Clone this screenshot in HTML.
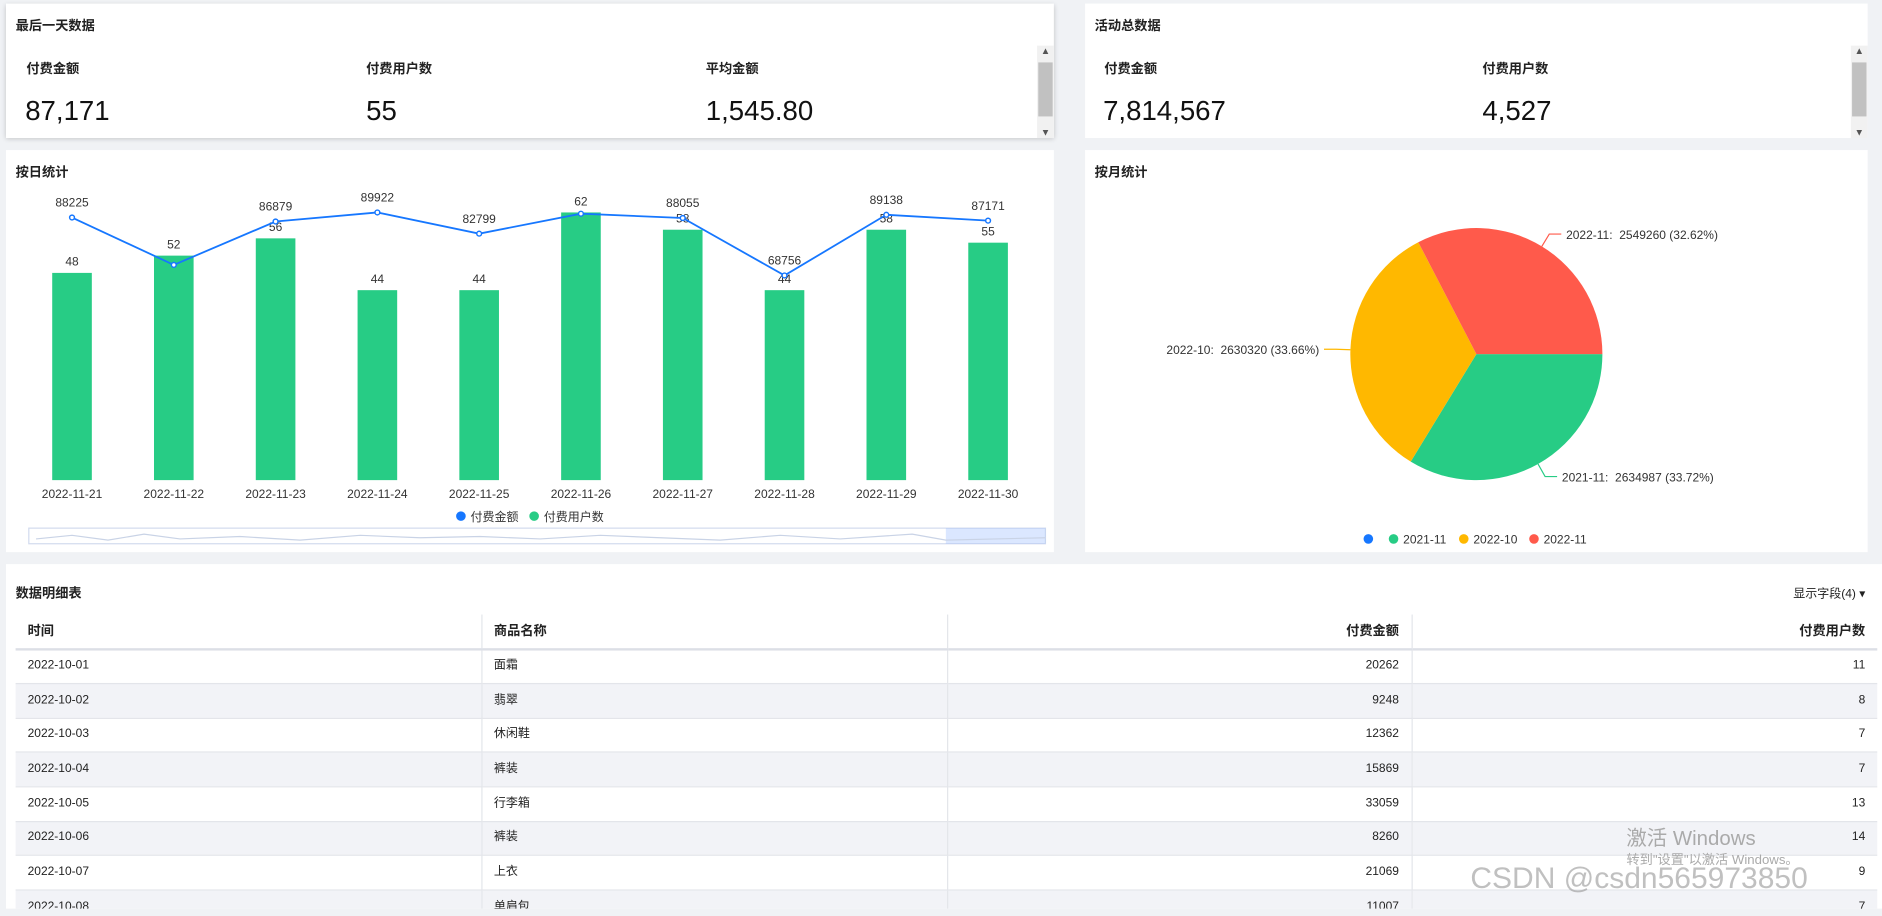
<!DOCTYPE html>
<html><head><meta charset="utf-8">
<style>
html,body{margin:0;padding:0;background:#f0f2f5;overflow:hidden;width:1882px;height:916px}
#wrap{position:absolute;left:0;top:0;width:1568px;height:763px;transform:scale(1.2003);transform-origin:0 0;font-family:"Liberation Sans","Noto Sans CJK SC",sans-serif;color:#222}
.card{position:absolute;background:#fff}
.title{position:absolute;left:8px;top:10px;font-size:11px;font-weight:bold;color:#222}
.lbl{position:absolute;font-size:11px;font-weight:bold}
.val{position:absolute;font-size:23px;color:#111}
.sb{position:absolute;width:14px;background:#f1f1f1}
.sb .th{position:absolute;left:1px;right:1px;background:#c1c1c1}
.sb .a{position:absolute;left:0;width:14px;text-align:center;font-size:8px;color:#555}
table{border-collapse:collapse;position:absolute;left:8px;top:42px;width:1551px;font-size:10px;table-layout:fixed}
td,th{height:28.7px;box-sizing:border-box;padding:0 10px;line-height:12px;vertical-align:middle;border-bottom:1px solid #e3e5ea;border-right:1px solid #e3e5ea;white-space:nowrap;overflow:hidden}
th{font-weight:bold;font-size:11px;text-align:left;border-bottom:2px solid #dcdfe6}
td:last-child,th:last-child{border-right:none}
.r{text-align:right}
tr.g td{background:#f2f3f7}
text{white-space:pre}
</style></head><body>
<div id="wrap">
<div class="card" style="left:5px;top:3px;width:873px;height:112px;box-shadow:0 1px 4px rgba(0,0,0,.2)">
 <div class="title">最后一天数据</div>
 <div class="lbl" style="left:17px;top:46px">付费金额</div>
 <div class="val" style="left:16px;top:76px">87,171</div>
 <div class="lbl" style="left:300px;top:46px">付费用户数</div>
 <div class="val" style="left:300px;top:76px">55</div>
 <div class="lbl" style="left:583px;top:46px">平均金额</div>
 <div class="val" style="left:583px;top:76px">1,545.80</div>
 <div class="sb" style="left:859px;top:35px;height:77px"><div class="a" style="top:0">▲</div><div class="th" style="top:14px;height:45px"></div><div class="a" style="bottom:0">▼</div></div>
</div>
<div class="card" style="left:904px;top:3px;width:652px;height:112px">
 <div class="title">活动总数据</div>
 <div class="lbl" style="left:16px;top:46px">付费金额</div>
 <div class="val" style="left:15px;top:76px">7,814,567</div>
 <div class="lbl" style="left:331px;top:46px">付费用户数</div>
 <div class="val" style="left:331px;top:76px">4,527</div>
 <div class="sb" style="left:638px;top:35px;height:77px"><div class="a" style="top:0">▲</div><div class="th" style="top:14px;height:45px"></div><div class="a" style="bottom:0">▼</div></div>
</div>
<div class="card" style="left:5px;top:125px;width:873px;height:335px">
 <div class="title">按日统计</div>
</div>
<div class="card" style="left:904px;top:125px;width:652px;height:335px">
 <div class="title">按月统计</div>
</div>
<svg id="chart" width="1568" height="763" style="position:absolute;left:0;top:0" font-family="Liberation Sans, Noto Sans CJK SC, sans-serif"></svg>
<div class="card" style="left:5px;top:470px;width:1563px;height:287px;overflow:hidden">
 <div class="title" style="top:16px">数据明细表</div>
 <div style="position:absolute;left:1489px;top:16px;font-size:10px">显示字段(4) ▾</div>
 <table>
 <colgroup><col style="width:388px"><col style="width:388px"><col style="width:387px"><col style="width:388px"></colgroup>
 <tr><th>时间</th><th>商品名称</th><th class="r">付费金额</th><th class="r">付费用户数</th></tr>
 <tr><td>2022-10-01</td><td>面霜</td><td class="r">20262</td><td class="r">11</td></tr>
 <tr class="g"><td>2022-10-02</td><td>翡翠</td><td class="r">9248</td><td class="r">8</td></tr>
 <tr><td>2022-10-03</td><td>休闲鞋</td><td class="r">12362</td><td class="r">7</td></tr>
 <tr class="g"><td>2022-10-04</td><td>裤装</td><td class="r">15869</td><td class="r">7</td></tr>
 <tr><td>2022-10-05</td><td>行李箱</td><td class="r">33059</td><td class="r">13</td></tr>
 <tr class="g"><td>2022-10-06</td><td>裤装</td><td class="r">8260</td><td class="r">14</td></tr>
 <tr><td>2022-10-07</td><td>上衣</td><td class="r">21069</td><td class="r">9</td></tr>
 <tr class="g"><td>2022-10-08</td><td>单肩包</td><td class="r">11007</td><td class="r">7</td></tr>
 </table>
 <div style="position:absolute;left:1350px;top:214px;font-size:17px;color:#aaa">激活 Windows</div>
 <div style="position:absolute;left:1350px;top:238px;font-size:11px;color:#aaa">转到"设置"以激活 Windows。</div>
 <div style="position:absolute;left:1220px;top:248px;font-size:25px;color:rgba(150,150,150,.6)">CSDN @csdn565973850</div>
</div>
</div>
<script>
const dates=['2022-11-21','2022-11-22','2022-11-23','2022-11-24','2022-11-25','2022-11-26','2022-11-27','2022-11-28','2022-11-29','2022-11-30'];
const amounts=[88225,72300,86879,89922,82799,89500,88055,68756,89138,87171];
const amountLabels=[88225,null,86879,89922,82799,null,88055,68756,89138,87171];
const users=[48,52,56,44,44,62,58,44,58,55];
const pieNames=['2021-11','2022-10','2022-11'];
const pieValues=[2634987,2630320,2549260];
const pieColors=['#27cc85','#ffb800','#ff5a4b'];
const NS='http://www.w3.org/2000/svg',svg=document.getElementById('chart');
function mk(t,a,txt){const e=document.createElementNS(NS,t);for(const k in a)e.setAttribute(k,a[k]);if(txt!=null)e.textContent=txt;svg.appendChild(e);return e;}
const x0=60,step=84.8,base=400,plotH=223;
const xs=i=>x0+i*step, yU=v=>base-v*plotH/62, yA=v=>base-v*plotH/89922;
users.forEach((v,i)=>{
 const b=mk('rect',{x:xs(i)-16.5,y:yU(v),width:33,height:base-yU(v),fill:'#27cc85'});
 
 
 const t=mk('text',{x:xs(i),y:yU(v)-6,'font-size':10,'text-anchor':'middle',fill:'#333'},v);
 
 
 const d=mk('text',{x:xs(i),y:415,'font-size':10,'text-anchor':'middle',fill:'#333'},dates[i]);
 
 
});
const ln=mk('polyline',{points:amounts.map((v,i)=>xs(i)+','+yA(v)).join(' '),fill:'none',stroke:'#1677ff','stroke-width':1.5});


amounts.forEach((v,i)=>{
 const c=mk('circle',{cx:xs(i),cy:yA(v),r:2,fill:'#fff',stroke:'#1677ff','stroke-width':1.2});
 
 
 if(amountLabels[i]!=null){const t=mk('text',{x:xs(i),y:yA(v)-9,'font-size':10,'text-anchor':'middle',fill:'#333'},amountLabels[i]);
 
 }
});
[['#1677ff','付费金额',384],['#27cc85','付费用户数',445]].forEach(([c,n,x])=>{
 const d=mk('circle',{cx:x,cy:430,r:4,fill:c});
 
 
 mk('text',{x:x+8,y:434,'font-size':10,fill:'#333'},n);
});
const dz=mk('rect',{x:24,y:440,width:847,height:13,fill:'#fff',stroke:'#d2dbee'});


mk('rect',{x:788,y:440,width:83,height:13,fill:'rgba(135,175,255,.3)'});
mk('polyline',{points:'30,449 60,446 90,450 120,445 150,449 200,447 250,450 300,446 350,448 400,447 450,449 500,446 550,448 600,450 650,446 700,449 760,445 788,450 871,448',fill:'none',stroke:'#c9d3e6','stroke-width':1});
const cx=1230,cy=295,R=105,tot=pieValues.reduce((a,b)=>a+b,0);
let ang=0;
pieValues.forEach((v,i)=>{
 const a1=ang,a2=ang+v/tot*2*Math.PI;ang=a2;
 const p=mk('path',{d:`M${cx},${cy} L${cx+R*Math.cos(a1)},${cy+R*Math.sin(a1)} A${R},${R} 0 ${a2-a1>Math.PI?1:0} 1 ${cx+R*Math.cos(a2)},${cy+R*Math.sin(a2)} Z`,fill:pieColors[i]});
 
 
 const m=(a1+a2)/2,ex=cx+R*Math.cos(m),ey=cy+R*Math.sin(m),ox=cx+(R+12)*Math.cos(m),oy=cy+(R+12)*Math.sin(m);
 const right=Math.cos(m)>=0,hx=ox+(right?10:-10);
 mk('polyline',{points:`${ex},${ey} ${ox},${oy} ${hx},${oy}`,fill:'none',stroke:pieColors[i]});
 const t=mk('text',{x:hx+(right?4:-4),y:oy+4,'font-size':10,fill:'#333','text-anchor':right?'start':'end'},`${pieNames[i]}:  ${v} (${(v/tot*100).toFixed(2)}%)`);
 
 
});
const bd=mk('circle',{cx:1140,cy:449,r:4,fill:'#1677ff'});


pieNames.forEach((n,i)=>{
 const x=1161+i*58.5;
 const d=mk('circle',{cx:x,cy:449,r:4,fill:pieColors[i]});
 
 
 mk('text',{x:x+8,y:453,'font-size':10,fill:'#333'},n);
});
</script>
</body></html>
